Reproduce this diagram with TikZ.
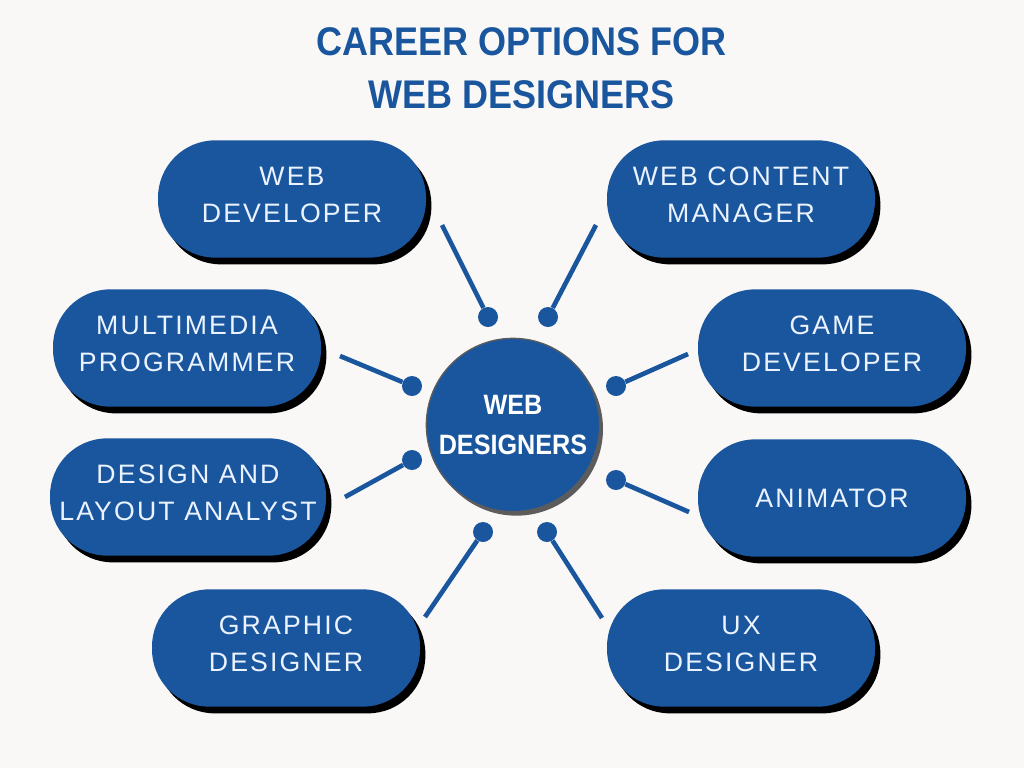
\documentclass[tikz,border=0pt]{standalone}
\usepackage{fontspec}
\setmainfont{Liberation Sans}
\newfontfamily\headfont{Liberation Sans}[FakeStretch=0.9]
\newfontfamily\pillfont{Liberation Sans}[LetterSpace=8]
\usetikzlibrary{shadows}
\definecolor{webblue}{HTML}{1A569E}
\definecolor{paper}{HTML}{F9F8F6}
\definecolor{pilltext}{HTML}{EAF3FF}
\definecolor{rim}{HTML}{5C5C5C}
\tikzset{
  career/.style={fill=webblue, text=pilltext, rounded corners=43pt,
    minimum width=201pt, minimum height=88pt, align=center, text depth=7pt,
    font=\pillfont\fontsize{20}{27.75}\selectfont,
    drop shadow={shadow xshift=4pt, shadow yshift=-5pt, fill=black, opacity=1}},
  hub/.style={circle, fill=webblue, draw=rim, line width=1pt, minimum size=130pt,
    text=white, align=center, font=\headfont\bfseries\fontsize{21}{30}\selectfont,
    drop shadow={shadow xshift=2.5pt, shadow yshift=-3pt, fill=rim, opacity=1}},
  pin/.style={circle, fill=webblue, inner sep=0pt, minimum size=15pt},
  link/.style={draw=webblue, line width=3.5pt},
}
\begin{document}
\begin{tikzpicture}[x=0.75pt,y=-0.75pt]
\fill[paper] (0,0) rectangle (1024,768);
\useasboundingbox (0,0) rectangle (1024,768);

\node[anchor=north, inner sep=0pt, align=center, text=webblue,
  font=\headfont\bfseries\fontsize{30}{40}\selectfont] (title) at (522,27)
  {CAREER OPTIONS FOR\\WEB DESIGNERS};

\node[hub] (WDS) at (513,425) {WEB\\DESIGNERS};

\node[career] (WD) at (292,199) {WEB\\DEVELOPER};
\node[career] (WCM) at (741,199) {WEB CONTENT\\MANAGER};
\node[career] (MP) at (187,348) {MULTIMEDIA\\PROGRAMMER};
\node[career] (GD) at (832,348) {GAME\\DEVELOPER};
\node[career, minimum width=207pt] (DLA) at (188,497) {DESIGN AND\\LAYOUT ANALYST};
\node[career, text depth=0pt] (AN) at (832,498) {ANIMATOR};
\node[career] (GRD) at (286,648) {GRAPHIC\\DESIGNER};
\node[career] (UX) at (741,648) {UX\\DESIGNER};

% spokes
\coordinate (WD-end) at (442,225);
\coordinate (WCM-end) at (596,225);
\coordinate (MP-end) at (340,356);
\coordinate (GD-end) at (688,354);
\coordinate (DLA-end) at (345,497);
\coordinate (AN-end) at (689,512);
\coordinate (GRD-end) at (425,617);
\coordinate (UX-end) at (602,618);

\node[pin] (WD-pin) at (488,317) {};
\node[pin] (WCM-pin) at (548,317) {};
\node[pin] (MP-pin) at (412,386) {};
\node[pin] (GD-pin) at (616,386) {};
\node[pin] (DLA-pin) at (412,460) {};
\node[pin] (AN-pin) at (616,480) {};
\node[pin] (GRD-pin) at (483,532) {};
\node[pin] (UX-pin) at (547,532) {};

\draw[link] (WD-end) -- (WD-pin);
\draw[link] (WCM-end) -- (WCM-pin);
\draw[link] (MP-end) -- (MP-pin);
\draw[link] (GD-end) -- (GD-pin);
\draw[link] (DLA-end) -- (DLA-pin);
\draw[link] (AN-end) -- (AN-pin);
\draw[link] (GRD-end) -- (GRD-pin);
\draw[link] (UX-end) -- (UX-pin);
\end{tikzpicture}
\end{document}
